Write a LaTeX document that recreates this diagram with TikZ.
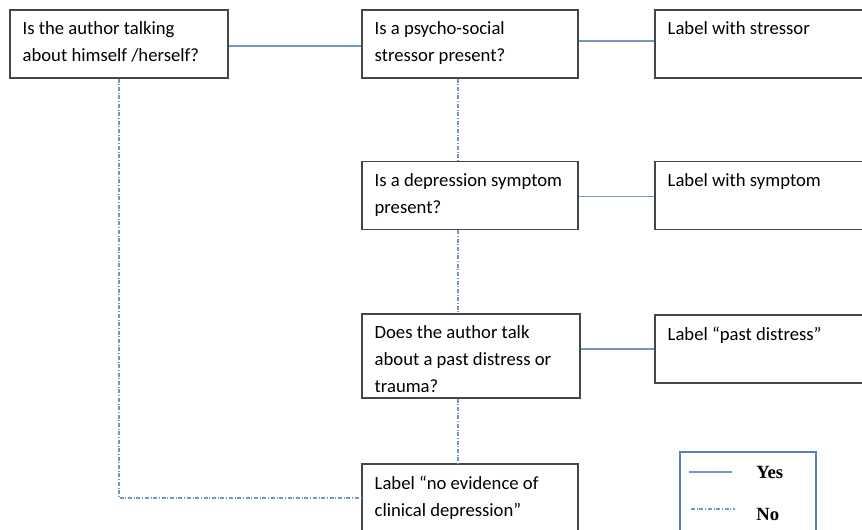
\documentclass[tikz,border=0pt]{standalone}
\usepackage{fontspec}
\setmainfont{Carlito}
\newfontfamily\legendfont{Liberation Serif}
\usepackage{xcolor}
\definecolor{linkblue}{RGB}{115,150,200}
\definecolor{legendblue}{RGB}{85,130,190}
\definecolor{boxgray}{RGB}{70,70,70}

\begin{document}
\begin{tikzpicture}[x=0.75pt,y=0.75pt,yscale=-1,xscale=1,
  box/.style={draw=boxgray, line width=0.9pt, fill=white, rectangle, inner sep=0pt, minimum width=162pt, minimum height=51pt},
  txt/.style={anchor=north west, inner sep=0pt, align=left, font=\fontsize{14}{20.25}\selectfont},
  yes/.style={draw=linkblue, line width=0.8pt},
  no/.style={draw=linkblue, line width=0.8pt, dash pattern=on 3pt off 1.3pt on 0.7pt off 1.3pt},
  legendtxt/.style={inner sep=0pt, font=\legendfont\bfseries\fontsize{14}{16}\selectfont}]
\path[use as bounding box, clip] (0,0) rectangle (862,529);

% Question boxes
\node[box, minimum width=163.5pt] (A) at (119,44) {};
\node[box] (B) at (470,44) {};
\node[box] (D) at (470,195.5) {};
\node[box, minimum width=163.5pt, minimum height=63pt] (F) at (471,356) {};
\node[box] (H) at (470,498) {};
% Label boxes
\node[box] (C) at (763,44) {};
\node[box] (E) at (763,195.5) {};
\node[box] (G) at (763,349) {};

% Texts
\node[txt] (tA) at ([shift={(13,12)}]A.north west) {Is the author talking\\about himself /herself?};
\node[txt] (tB) at ([shift={(13,12)}]B.north west) {Is a psycho-social\\stressor present?};
\node[txt] (tD) at ([shift={(13,12)}]D.north west) {Is a depression symptom\\present?};
\node[txt] (tF) at ([shift={(13,12)}]F.north west) {Does the author talk\\about a past distress or\\trauma?};
\node[txt] (tH) at ([shift={(13,12)}]H.north west) {Label “no evidence of\\clinical depression”};
\node[txt] (tC) at ([shift={(13,12)}]C.north west) {Label with stressor};
\node[txt] (tE) at ([shift={(13,12)}]E.north west) {Label with symptom};
\node[txt] (tG) at ([shift={(13,12)}]G.north west) {Label “past distress”};

% Yes links
\draw[yes] ([yshift=1.5pt]A.east) -- ([yshift=1.5pt]B.west);
\draw[yes] ([yshift=-2.25pt]B.east) -- ([yshift=-2.25pt]C.west);
\draw[yes] ([yshift=0.4pt]D.east) -- ([yshift=0.4pt]E.west);
\draw[yes] (F.east |- G.west) -- (G.west);

% No links
\coordinate (spine) at (458,0);
\draw[no] (B.south -| spine) -- (D.north -| spine);
\draw[no] (D.south -| spine) -- (F.north -| spine);
\draw[no] (F.south -| spine) -- (H.north -| spine);
\draw[no] (A.south) |- (H.west);

% Legend
\node[draw=legendblue, line width=2.2pt, rectangle, inner sep=0pt, minimum width=102pt, minimum height=72pt] (legend) at (748,500) {};
\coordinate (ys) at (689,472);
\coordinate (ye) at (732,472);
\coordinate (ns) at (691,509);
\coordinate (ne) at (735,509);
\draw[yes] (ys) -- (ye);
\draw[no] (ns) -- (ne);
\node[legendtxt, anchor=west] (lyes) at (756,472) {Yes};
\node[legendtxt, anchor=west] (lno) at (756,514) {No};

\end{tikzpicture}
\end{document}
